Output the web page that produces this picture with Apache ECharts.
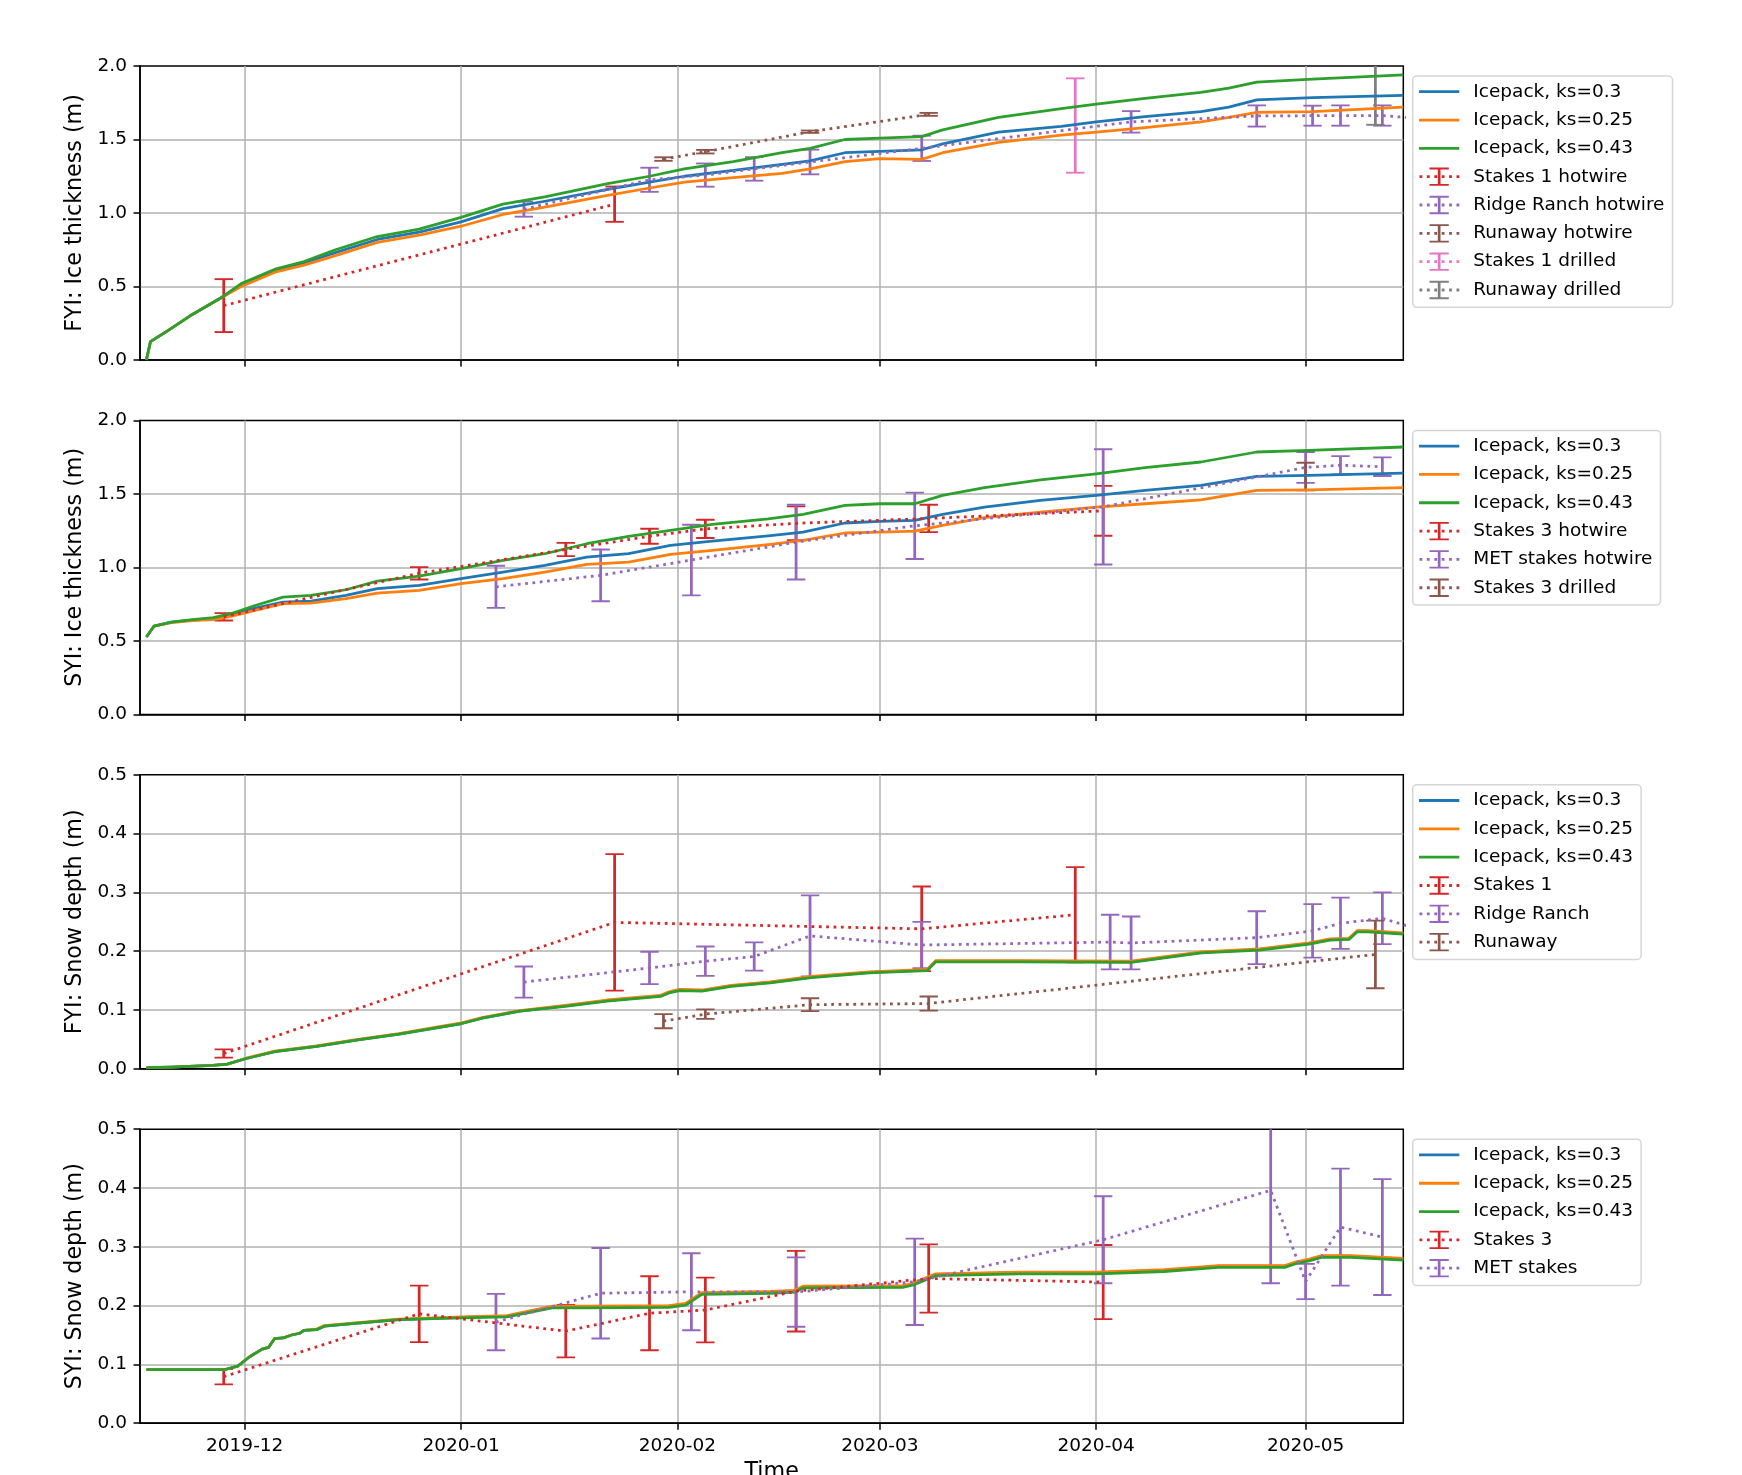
<!DOCTYPE html>
<html>
<head>
<meta charset="utf-8">
<script src="https://cdn.jsdelivr.net/npm/echarts@6/dist/echarts.min.js"></script>
<style>
html,body{margin:0;padding:0;background:#fff;}
#chart{width:1742px;height:1475px;}
</style>
</head>
<body>
<div id="chart"></div>
<script>
// ---------------- DATA ----------------
const xMin = '2019-11-16';
const xMax = '2020-05-15';
const monthTicks = ['2019-12-01', '2020-01-01', '2020-02-01', '2020-03-01', '2020-04-01', '2020-05-01'];

// Panel 1: FYI ice thickness (m)
const p1Dates = ['2019-11-16 22:00','2019-11-17 12:00','2019-11-20','2019-11-23 12:00','2019-11-27 12:00','2019-11-30 12:00',
  '2019-12-05 12:00','2019-12-09 12:00','2019-12-14','2019-12-20','2019-12-26','2020-01-01','2020-01-07','2020-01-13',
  '2020-01-22','2020-01-28','2020-02-02','2020-02-09','2020-02-16','2020-02-20','2020-02-25','2020-03-01','2020-03-07',
  '2020-03-10','2020-03-18','2020-03-27','2020-04-01','2020-04-08','2020-04-16','2020-04-20','2020-04-24','2020-05-02','2020-05-15'];
const p1Ks030 = [0, 0.125, 0.20, 0.31, 0.42, 0.51, 0.61, 0.66, 0.73, 0.82, 0.87, 0.94, 1.03, 1.08, 1.16, 1.21, 1.25, 1.29, 1.33, 1.355, 1.41, 1.42, 1.43, 1.47, 1.55, 1.59, 1.62, 1.655, 1.69, 1.72, 1.77, 1.785, 1.80];
const p1Ks025 = [0, 0.125, 0.20, 0.31, 0.42, 0.50, 0.60, 0.645, 0.71, 0.80, 0.85, 0.91, 0.99, 1.04, 1.12, 1.17, 1.21, 1.24, 1.27, 1.30, 1.35, 1.37, 1.365, 1.41, 1.48, 1.53, 1.55, 1.58, 1.62, 1.65, 1.685, 1.69, 1.72];
const p1Ks043 = [0, 0.125, 0.20, 0.31, 0.42, 0.52, 0.62, 0.67, 0.75, 0.84, 0.89, 0.97, 1.06, 1.11, 1.20, 1.25, 1.30, 1.35, 1.41, 1.44, 1.50, 1.51, 1.52, 1.565, 1.65, 1.71, 1.74, 1.78, 1.82, 1.85, 1.89, 1.91, 1.94];

const p1Stakes1HwDates = ['2019-11-28', '2020-01-23'];
const p1Stakes1HwMean = [0.37, 1.06];
const p1Stakes1HwErr = [0.18, 0.12];
const p1RidgeHwDates = ['2020-01-10','2020-01-28','2020-02-05','2020-02-12','2020-02-20','2020-03-07','2020-04-06','2020-04-24','2020-05-02','2020-05-06','2020-05-12','2020-05-18'];
const p1RidgeHwMean = [1.026, 1.226, 1.258, 1.30, 1.347, 1.44, 1.62, 1.66, 1.662, 1.663, 1.663, 1.64];
const p1RidgeHwErr = [0.051, 0.082, 0.079, 0.08, 0.084, 0.086, 0.073, 0.072, 0.068, 0.069, 0.069, 0.07];
const p1RunawayHwDates = ['2020-01-30', '2020-02-05', '2020-02-20', '2020-03-08'];
const p1RunawayHwMean = [1.367, 1.417, 1.553, 1.671];
const p1RunawayHwErr = [0.012, 0.012, 0.008, 0.01];
const p1Stakes1DrDates = ['2020-03-29'];
const p1Stakes1DrMean = [1.595];
const p1Stakes1DrErr = [0.321];
const p1RunawayDrDates = ['2020-05-11'];
const p1RunawayDrMean = [1.9];
const p1RunawayDrErr = [0.3];

// Panel 2: SYI ice thickness (m)
const p2Dates = ['2019-11-16 22:00','2019-11-18','2019-11-20 12:00','2019-11-23 12:00','2019-11-26 12:00','2019-11-29',
  '2019-12-02 12:00','2019-12-06 12:00','2019-12-10 12:00','2019-12-15 12:00','2019-12-20','2019-12-26','2020-01-01',
  '2020-01-07','2020-01-13','2020-01-19','2020-01-25','2020-01-31','2020-02-06','2020-02-14','2020-02-19','2020-02-25',
  '2020-03-01','2020-03-06','2020-03-10','2020-03-16','2020-03-24','2020-04-01','2020-04-08','2020-04-16','2020-04-24','2020-05-01 12:00','2020-05-15'];
const p2Ks030 = [0.526, 0.60, 0.628, 0.642, 0.651, 0.68, 0.723, 0.764, 0.771, 0.81, 0.855, 0.878, 0.923, 0.968, 1.014, 1.07, 1.093, 1.15, 1.179, 1.215, 1.24, 1.302, 1.313, 1.32, 1.361, 1.41, 1.456, 1.49, 1.524, 1.558, 1.619, 1.626, 1.642];
const p2Ks025 = [0.526, 0.60, 0.625, 0.638, 0.644, 0.667, 0.707, 0.753, 0.757, 0.787, 0.825, 0.844, 0.889, 0.923, 0.968, 1.02, 1.036, 1.088, 1.116, 1.155, 1.184, 1.234, 1.24, 1.247, 1.286, 1.338, 1.376, 1.41, 1.433, 1.46, 1.524, 1.528, 1.542];
const p2Ks043 = [0.526, 0.60, 0.628, 0.644, 0.658, 0.685, 0.741, 0.798, 0.81, 0.848, 0.907, 0.941, 0.991, 1.048, 1.093, 1.161, 1.211, 1.252, 1.293, 1.33, 1.361, 1.422, 1.433, 1.433, 1.49, 1.542, 1.596, 1.637, 1.678, 1.717, 1.785, 1.796, 1.819];

const p2Stakes3HwDates = ['2019-11-28','2019-12-26','2020-01-16','2020-01-28','2020-02-05','2020-02-18','2020-03-08','2020-04-02'];
const p2Stakes3HwMean = [0.664, 0.96, 1.122, 1.212, 1.262, 1.30, 1.333, 1.385];
const p2Stakes3HwErr = [0.025, 0.042, 0.045, 0.051, 0.062, 0.115, 0.093, 0.17];
const p2MetHwDates = ['2020-01-06','2020-01-21','2020-02-03','2020-02-18','2020-03-06','2020-04-02','2020-05-01','2020-05-06','2020-05-12'];
const p2MetHwMean = [0.868, 0.946, 1.05, 1.172, 1.283, 1.412, 1.68, 1.695, 1.685];
const p2MetHwErr = [0.143, 0.176, 0.24, 0.254, 0.226, 0.392, 0.105, 0.062, 0.063];
const p2Stakes3DrDates = ['2020-05-01'];
const p2Stakes3DrMean = [1.618];
const p2Stakes3DrErr = [0.094];

// Panel 3: FYI snow depth (m)
const p3Dates = ['2019-11-16 22:00','2019-11-20 11:00','2019-11-26 10:00','2019-11-28 12:00','2019-12-01 05:00','2019-12-05 07:00',
  '2019-12-11 07:00','2019-12-17 05:00','2019-12-23 02:00','2019-12-29 02:00','2020-01-01 02:00','2020-01-04','2020-01-09 10:00',
  '2020-01-15 22:00','2020-01-21 22:00','2020-01-29 14:00','2020-01-30 19:00','2020-02-01 07:00','2020-02-04 12:00','2020-02-08 17:00',
  '2020-02-14 07:00','2020-02-20 05:00','2020-02-28 12:00','2020-03-07 19:00','2020-03-09','2020-03-20 22:00','2020-04-06',
  '2020-04-16 02:00','2020-04-24 10:00','2020-05-01 12:00','2020-05-04 12:00','2020-05-07 05:00','2020-05-08 10:00','2020-05-09 22:00','2020-05-15'];
const p3Ks030 = [0.002, 0.003, 0.006, 0.008, 0.0175, 0.029, 0.038, 0.049, 0.059, 0.071, 0.077, 0.086, 0.098, 0.107, 0.116, 0.124, 0.13, 0.134, 0.133, 0.141, 0.147, 0.156, 0.164, 0.168, 0.183, 0.183, 0.182, 0.198, 0.203, 0.213, 0.22, 0.221, 0.234, 0.234, 0.23];
const p3Ks025 = [0.002, 0.003, 0.006, 0.008, 0.018, 0.03, 0.039, 0.05, 0.06, 0.072, 0.078, 0.087, 0.099, 0.108, 0.117, 0.125, 0.131, 0.135, 0.134, 0.142, 0.148, 0.157, 0.165, 0.169, 0.184, 0.184, 0.183, 0.199, 0.204, 0.214, 0.221, 0.222, 0.235, 0.235, 0.231];
const p3Ks043 = [0.002, 0.003, 0.006, 0.008, 0.0175, 0.029, 0.038, 0.049, 0.059, 0.071, 0.077, 0.086, 0.098, 0.106, 0.115, 0.123, 0.129, 0.133, 0.132, 0.14, 0.146, 0.155, 0.163, 0.167, 0.182, 0.182, 0.181, 0.197, 0.202, 0.212, 0.219, 0.22, 0.233, 0.233, 0.229];

const p3Stakes1Dates = ['2019-11-28', '2020-01-23', '2020-03-07', '2020-03-29'];
const p3Stakes1Mean = [0.026, 0.249, 0.238, 0.262];
const p3Stakes1Err = [0.007, 0.116, 0.072, 0.081];
const p3RidgeDates = ['2020-01-10','2020-01-28','2020-02-05','2020-02-12','2020-02-20','2020-03-07','2020-04-03','2020-04-06','2020-04-24','2020-05-02','2020-05-06','2020-05-12','2020-05-18'];
const p3RidgeMean = [0.1475, 0.1715, 0.183, 0.191, 0.226, 0.2105, 0.2155, 0.214, 0.223, 0.2345, 0.2475, 0.256, 0.234];
const p3RidgeErr = [0.0265, 0.0275, 0.025, 0.024, 0.069, 0.0395, 0.0465, 0.045, 0.045, 0.0455, 0.0435, 0.044, 0.045];
const p3RunawayDates = ['2020-01-30', '2020-02-05', '2020-02-20', '2020-03-08', '2020-05-11'];
const p3RunawayMean = [0.081, 0.093, 0.109, 0.111, 0.1945];
const p3RunawayErr = [0.012, 0.008, 0.011, 0.012, 0.0575];

// Panel 4: SYI snow depth (m)
const p4Dates = ['2019-11-16 22:00','2019-11-20 11:00','2019-11-28 05:00','2019-11-30','2019-12-01 17:00','2019-12-03 12:00',
  '2019-12-04 10:00','2019-12-05 07:00','2019-12-06 12:00','2019-12-07 17:00','2019-12-08 22:00','2019-12-09 12:00','2019-12-11 07:00',
  '2019-12-12 10:00','2019-12-17 05:00','2019-12-23 02:00','2020-01-01 02:00','2020-01-07 14:00','2020-01-14 02:00','2020-01-18 22:00',
  '2020-01-30 19:00','2020-02-02 05:00','2020-02-04 12:00','2020-02-14 07:00','2020-02-17 19:00','2020-02-19','2020-03-04 07:00',
  '2020-03-05 19:00','2020-03-07 07:00','2020-03-09','2020-03-20 22:00','2020-04-01 05:00','2020-04-10 17:00','2020-04-18 12:00',
  '2020-04-28','2020-04-29 19:00','2020-05-01 12:00','2020-05-03 07:00','2020-05-07 12:00','2020-05-15'];
const p4Ks030 = [0.0913, 0.0913, 0.0913, 0.097, 0.113, 0.126, 0.129, 0.144, 0.145, 0.15, 0.153, 0.158, 0.159, 0.165, 0.17, 0.176, 0.18, 0.182, 0.198, 0.198, 0.199, 0.203, 0.221, 0.223, 0.225, 0.232, 0.233, 0.237, 0.2445, 0.253, 0.256, 0.256, 0.26, 0.267, 0.267, 0.274, 0.278, 0.284, 0.284, 0.2795];
const p4Ks025 = [0.0913, 0.0913, 0.0913, 0.097, 0.113, 0.126, 0.129, 0.144, 0.145, 0.15, 0.153, 0.158, 0.16, 0.166, 0.171, 0.177, 0.181, 0.183, 0.199, 0.199, 0.2, 0.204, 0.222, 0.224, 0.226, 0.233, 0.234, 0.238, 0.2455, 0.254, 0.257, 0.257, 0.261, 0.268, 0.268, 0.275, 0.279, 0.285, 0.285, 0.2805];
const p4Ks043 = [0.0913, 0.0913, 0.0913, 0.097, 0.113, 0.126, 0.129, 0.144, 0.145, 0.15, 0.153, 0.158, 0.159, 0.165, 0.17, 0.176, 0.179, 0.181, 0.196, 0.196, 0.197, 0.201, 0.219, 0.221, 0.223, 0.23, 0.231, 0.235, 0.2425, 0.251, 0.254, 0.254, 0.258, 0.265, 0.265, 0.272, 0.276, 0.282, 0.282, 0.2775];

const p4Stakes3Dates = ['2019-11-28','2019-12-26','2020-01-16','2020-01-28','2020-02-05','2020-02-18','2020-03-08','2020-04-02'];
const p4Stakes3Mean = [0.079, 0.186, 0.1565, 0.187, 0.1925, 0.2245, 0.246, 0.24];
const p4Stakes3Err = [0.013, 0.048, 0.0445, 0.063, 0.055, 0.0685, 0.058, 0.063];
const p4MetDates = ['2020-01-06','2020-01-21','2020-02-03','2020-02-18','2020-03-06','2020-04-02','2020-04-26','2020-05-01','2020-05-06','2020-05-12'];
const p4MetMean = [0.172, 0.221, 0.2235, 0.223, 0.2405, 0.312, 0.396, 0.241, 0.3335, 0.3165];
const p4MetErr = [0.048, 0.077, 0.0655, 0.059, 0.0735, 0.074, 0.158, 0.03, 0.0995, 0.0985];

const yNames = ['FYI: Ice thickness (m)', 'SYI: Ice thickness (m)', 'FYI: Snow depth (m)', 'SYI: Snow depth (m)'];
const xName = 'Time';
const legend1 = ['Icepack, ks=0.3','Icepack, ks=0.25','Icepack, ks=0.43','Stakes 1 hotwire','Ridge Ranch hotwire','Runaway hotwire','Stakes 1 drilled','Runaway drilled'];
const legend2 = ['Icepack, ks=0.3','Icepack, ks=0.25','Icepack, ks=0.43','Stakes 3 hotwire','MET stakes hotwire','Stakes 3 drilled'];
const legend3 = ['Icepack, ks=0.3','Icepack, ks=0.25','Icepack, ks=0.43','Stakes 1','Ridge Ranch','Runaway'];
const legend4 = ['Icepack, ks=0.3','Icepack, ks=0.25','Icepack, ks=0.43','Stakes 3','MET stakes'];

// ---------------- HELPERS ----------------
function T(s) {
  const parts = s.split(' ');
  const d = parts[0].split('-').map(Number);
  const h = (parts[1] || '00:00').split(':').map(Number);
  return new Date(d[0], d[1] - 1, d[2], h[0], h[1]).getTime();
}
function pairs(dates, vals) { return dates.map((d, i) => [T(d), vals[i]]); }
function triples(dates, mean, err) { return dates.map((d, i) => [T(d), mean[i], err[i]]); }

const FONT = 'DejaVu Sans';
const FS = 18.5;
const FS_NAME = 22.2;
const LW = 2.77;
const DAY = 86400000;
const COL = { ks030: '#1f77b4', ks025: '#ff7f0e', ks043: '#2ca02c', red: '#d62728', purple: '#9467bd', brown: '#8c564b', pink: '#e377c2', gray: '#7f7f7f' };

function renderErr(params, api) {
  const x = api.value(0), y = api.value(1), e = api.value(2);
  const top = api.coord([x, y + e]);
  const bot = api.coord([x, y - e]);
  const c = api.visual('color');
  const cap = 9.2;
  return {
    type: 'group',
    children: [
      { type: 'line', shape: { x1: top[0], y1: top[1], x2: bot[0], y2: bot[1] }, style: { stroke: c, lineWidth: LW, fill: null } },
      { type: 'line', shape: { x1: top[0] - cap, y1: top[1], x2: top[0] + cap, y2: top[1] }, style: { stroke: c, lineWidth: 1.85, fill: null } },
      { type: 'line', shape: { x1: bot[0] - cap, y1: bot[1], x2: bot[0] + cap, y2: bot[1] }, style: { stroke: c, lineWidth: 1.85, fill: null } }
    ]
  };
}

function modelSeries(idx, name, color, dates, vals) {
  return {
    type: 'line', name, xAxisIndex: idx, yAxisIndex: idx, data: pairs(dates, vals),
    symbol: 'none', showSymbol: false, lineStyle: { color, width: LW, join: 'round' }, itemStyle: { color }, emphasis: { disabled: true }
  };
}
function obsSeries(idx, name, color, dates, mean, err) {
  return [
    {
      type: 'line', name, xAxisIndex: idx, yAxisIndex: idx, data: pairs(dates, mean),
      symbol: 'none', showSymbol: false, lineStyle: { color, width: LW, type: [2.77, 4.57] }, itemStyle: { color }, emphasis: { disabled: true }
    },
    {
      type: 'custom', name, xAxisIndex: idx, yAxisIndex: idx, data: triples(dates, mean, err),
      dimensions: ['t', 'mean', 'err'], encode: { x: 0, y: 1 }, clip: true, itemStyle: { color }, renderItem: renderErr
    }
  ];
}

const GRID_TOPS = [66, 420.4, 774.8, 1129.2];
const LEGEND_TOPS = [76, 430.4, 784.8, 1139.2];
const monthVals = monthTicks.map(T);
const blackLine = { color: '#000', width: 1.5 };
const fmtMonth = v => {
  if (monthVals.indexOf(v) < 0) return '';
  const d = new Date(v);
  return d.getFullYear() + '-' + String(d.getMonth() + 1).padStart(2, '0');
};

const LINE_ICON = 'path://M0,0h0.01v0.01h-0.01z M49.29,19.99h0.01v0.01h-0.01z M0,8.6h40.3v2.8h-40.3z';
const ERR_ICON = 'path://M0,0h0.01v0.01h-0.01z M49.29,19.99h0.01v0.01h-0.01z ' +
  'M0.5,8.6h2.8v2.8h-2.8z M7.9,8.6h2.8v2.8h-2.8z M15.3,8.6h2.8v2.8h-2.8z M22.7,8.6h2.8v2.8h-2.8z M30.1,8.6h2.8v2.8h-2.8z M37.5,8.6h2.8v2.8h-2.8z ' +
  'M18.8,0.85h2.7v18.3h-2.7z M10.5,0.85h19.3v1.85h-19.3z M10.5,17.3h19.3v1.85h-19.3z';

function buildOption(useCustomTicks) {
  const grids = GRID_TOPS.map(top => ({
    left: 140, top, width: 1263.3, height: 294, show: true, borderColor: '#000', borderWidth: 1.5,
    backgroundColor: 'transparent', containLabel: false, outerBoundsMode: 'none'
  }));

  const xAxes = [0, 1, 2, 3].map(i => {
    const tick = { show: true, length: 6.5, lineStyle: blackLine };
    if (useCustomTicks) tick.customValues = monthVals;
    return {
      type: 'time', gridIndex: i, min: T(xMin), max: T(xMax),
      minInterval: 28 * DAY, maxInterval: 31 * DAY,
      name: i === 3 ? xName : '', nameLocation: 'middle', nameGap: 38,
      nameTextStyle: { fontFamily: FONT, fontSize: FS_NAME, color: '#000' },
      axisLine: { show: true, onZero: false, lineStyle: blackLine },
      axisTick: tick,
      axisLabel: { show: i === 3, showMinLabel: false, showMaxLabel: false, margin: 13, fontFamily: FONT, fontSize: FS, color: '#000', formatter: fmtMonth },
      splitLine: { show: true, showMinLine: false, showMaxLine: false, lineStyle: { color: '#b0b0b0', width: 1.5 } },
      minorTick: { show: false }, minorSplitLine: { show: false }
    };
  });

  const yAxes = [0, 1, 2, 3].map(i => ({
    type: 'value', gridIndex: i, min: 0, max: i < 2 ? 2 : 0.5, interval: i < 2 ? 0.5 : 0.1,
    name: yNames[i], nameLocation: 'middle', nameGap: 49,
    nameTextStyle: { fontFamily: FONT, fontSize: FS_NAME, color: '#000' },
    axisLine: { show: true, onZero: false, lineStyle: blackLine },
    axisTick: { show: true, length: 6.5, lineStyle: blackLine },
    axisLabel: { margin: 13, fontFamily: FONT, fontSize: FS, color: '#000', formatter: v => v.toFixed(1) },
    splitLine: { show: true, showMinLine: false, showMaxLine: false, lineStyle: { color: '#b0b0b0', width: 1.5 } }
  }));

  const legends = [legend1, legend2, legend3, legend4].map((names, i) => ({
    orient: 'vertical', left: 1412.7, top: LEGEND_TOPS[i], padding: [5.7, 8, 7.3, 6.3],
    itemGap: 8.33, itemWidth: 49.3, itemHeight: 20, selectedMode: false,
    backgroundColor: 'rgba(255,255,255,0.8)', borderColor: 'rgba(204,204,204,0.8)', borderWidth: 1.5, borderRadius: 4,
    textStyle: { fontFamily: FONT, fontSize: FS, color: '#000', lineHeight: 20 },
    itemStyle: { borderWidth: 0 },
    data: names.map(n => ({ name: n, icon: n.indexOf('Icepack') === 0 ? LINE_ICON : ERR_ICON }))
  }));

  const series = [
    modelSeries(0, 'Icepack, ks=0.3', COL.ks030, p1Dates, p1Ks030),
    modelSeries(0, 'Icepack, ks=0.25', COL.ks025, p1Dates, p1Ks025),
    modelSeries(0, 'Icepack, ks=0.43', COL.ks043, p1Dates, p1Ks043),
    ...obsSeries(0, 'Stakes 1 hotwire', COL.red, p1Stakes1HwDates, p1Stakes1HwMean, p1Stakes1HwErr),
    ...obsSeries(0, 'Ridge Ranch hotwire', COL.purple, p1RidgeHwDates, p1RidgeHwMean, p1RidgeHwErr),
    ...obsSeries(0, 'Runaway hotwire', COL.brown, p1RunawayHwDates, p1RunawayHwMean, p1RunawayHwErr),
    ...obsSeries(0, 'Stakes 1 drilled', COL.pink, p1Stakes1DrDates, p1Stakes1DrMean, p1Stakes1DrErr),
    ...obsSeries(0, 'Runaway drilled', COL.gray, p1RunawayDrDates, p1RunawayDrMean, p1RunawayDrErr),

    modelSeries(1, 'Icepack, ks=0.3', COL.ks030, p2Dates, p2Ks030),
    modelSeries(1, 'Icepack, ks=0.25', COL.ks025, p2Dates, p2Ks025),
    modelSeries(1, 'Icepack, ks=0.43', COL.ks043, p2Dates, p2Ks043),
    ...obsSeries(1, 'Stakes 3 hotwire', COL.red, p2Stakes3HwDates, p2Stakes3HwMean, p2Stakes3HwErr),
    ...obsSeries(1, 'MET stakes hotwire', COL.purple, p2MetHwDates, p2MetHwMean, p2MetHwErr),
    ...obsSeries(1, 'Stakes 3 drilled', COL.brown, p2Stakes3DrDates, p2Stakes3DrMean, p2Stakes3DrErr),

    modelSeries(2, 'Icepack, ks=0.3', COL.ks030, p3Dates, p3Ks030),
    modelSeries(2, 'Icepack, ks=0.25', COL.ks025, p3Dates, p3Ks025),
    modelSeries(2, 'Icepack, ks=0.43', COL.ks043, p3Dates, p3Ks043),
    ...obsSeries(2, 'Stakes 1', COL.red, p3Stakes1Dates, p3Stakes1Mean, p3Stakes1Err),
    ...obsSeries(2, 'Ridge Ranch', COL.purple, p3RidgeDates, p3RidgeMean, p3RidgeErr),
    ...obsSeries(2, 'Runaway', COL.brown, p3RunawayDates, p3RunawayMean, p3RunawayErr),

    modelSeries(3, 'Icepack, ks=0.3', COL.ks030, p4Dates, p4Ks030),
    modelSeries(3, 'Icepack, ks=0.25', COL.ks025, p4Dates, p4Ks025),
    modelSeries(3, 'Icepack, ks=0.43', COL.ks043, p4Dates, p4Ks043),
    ...obsSeries(3, 'Stakes 3', COL.red, p4Stakes3Dates, p4Stakes3Mean, p4Stakes3Err),
    ...obsSeries(3, 'MET stakes', COL.purple, p4MetDates, p4MetMean, p4MetErr)
  ];

  return {
    animation: false,
    backgroundColor: '#ffffff',
    textStyle: { fontFamily: FONT },
    grid: grids,
    xAxis: xAxes,
    yAxis: yAxes,
    legend: legends,
    tooltip: { show: false },
    series
  };
}

const el = document.getElementById('chart');
let chart = echarts.init(el, null, { renderer: 'canvas' });
try {
  chart.setOption(buildOption(true));
} catch (e) {
  chart.dispose();
  chart = echarts.init(el, null, { renderer: 'canvas' });
  chart.setOption(buildOption(false));
}
</script>
</body>
</html>
